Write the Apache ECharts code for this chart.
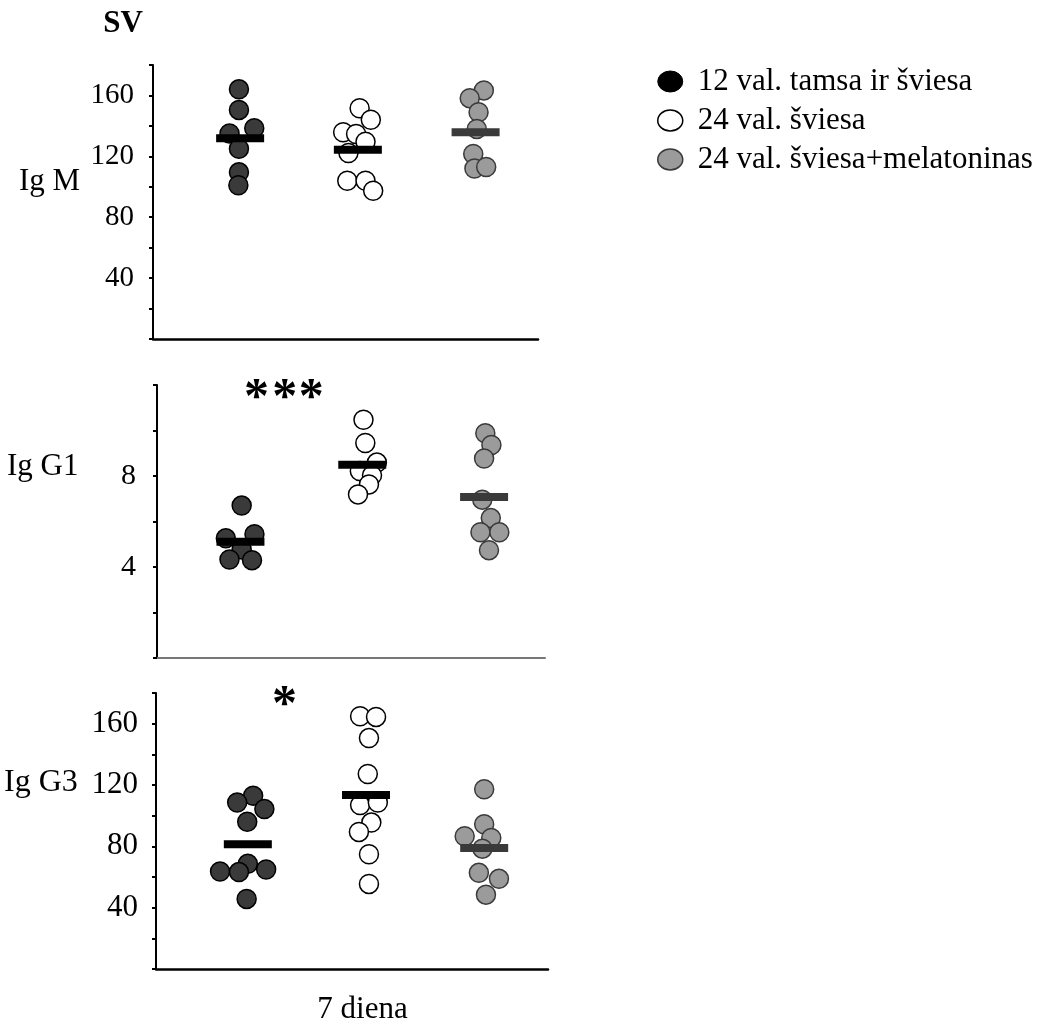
<!DOCTYPE html>
<html>
<head>
<meta charset="utf-8">
<script src="https://cdn.jsdelivr.net/npm/echarts@6/dist/echarts.min.js"></script>
<style>
html,body{margin:0;padding:0;background:#fff;}
#chart{width:1046px;height:1025px;}
</style>
</head>
<body>
<div id="chart"></div>
<script>
// ---- data ----
const groupNames = ['12 val. tamsa ir šviesa', '24 val. šviesa', '24 val. šviesa+melatoninas'];
const panelNames = ['Ig M', 'Ig G1', 'Ig G3'];
const xTitle = '7 diena';
const figTitle = 'SV';

// Ig M
const igM_dark = [164, 150.5, 138.5, 135, 125, 109.5, 101];
const igM_dark_jit = [-0.01, -0.01, 0.12, -0.09, -0.01, -0.01, -0.015];
const igM_white = [151.6, 144, 135.8, 134.7, 129.6, 122.2, 104, 104, 97.4];
const igM_white_jit = [0.015, 0.11, -0.125, -0.015, 0.065, -0.08, -0.09, 0.065, 0.13];
const igM_grey = [163.3, 158.2, 149, 138, 121.5, 112, 113];
const igM_grey_jit = [0.07, -0.05, 0.025, 0.01, -0.02, -0.01, 0.09];
const igM_means = [131.8, 124.4, 135.8];
const igM_ticks = [40, 80, 120, 160];

// Ig G1
const igG1_dark = [6.7, 5.26, 5.44, 4.77, 4.33, 4.30];
const igG1_dark_jit = [0.01, -0.12, 0.115, 0.01, -0.09, 0.095];
const igG1_white = [10.47, 9.45, 8.59, 8.22, 8.03, 7.63, 7.19];
const igG1_white_jit = [0.01, 0.025, 0.12, -0.02, 0.08, 0.055, -0.035];
const igG1_grey = [9.88, 9.36, 8.77, 6.96, 6.15, 5.53, 5.53, 4.74];
const igG1_grey_jit = [0.01, 0.06, 0, -0.015, 0.055, -0.03, 0.125, 0.04];
const igG1_means = [5.11, 8.49, 7.08];
const igG1_ticks = [4, 8];

// Ig G3
const igG3_dark = [113, 108.6, 104.3, 96, 68.6, 63.6, 63.2, 64.9, 45.7];
const igG3_dark_jit = [0.045, -0.09, 0.14, -0.005, 0, -0.235, -0.075, 0.155, -0.01];
const igG3_white = [164.8, 164.4, 150.6, 127.2, 106.9, 108.6, 95.5, 89.4, 74.8, 55.5];
const igG3_white_jit = [-0.05, 0.085, 0.025, 0.015, -0.05, 0.1, 0.045, -0.06, 0.025, 0.025];
const igG3_grey = [117.2, 94.4, 86.6, 85.5, 78.5, 62.7, 58.8, 48.5];
const igG3_grey_jit = [0, 0, -0.165, 0.06, -0.015, -0.045, 0.125, 0.015];
const igG3_means = [81.3, 113.4, 78.9];
const igG3_ticks = [40, 80, 120, 160];

const significance = ['***', '', '*'];

// ---- layout / style ----
const FONT = '"Liberation Serif", "Times New Roman", serif';
const panels = [
  { vals: [[igM_dark, igM_dark_jit], [igM_white, igM_white_jit], [igM_grey, igM_grey_jit]],
    means: igM_means, ticks: igM_ticks, yMax: 180, yInt: 20,
    grid: { left: 153, top: 65, width: 385, height: 274 }, xMin: 0.26, xMax: 3.53,
    xLine: '#000', xWidth: 2.5, labelSize: 29, labelMargin: 19 },
  { vals: [[igG1_dark, igG1_dark_jit], [igG1_white, igG1_white_jit], [igG1_grey, igG1_grey_jit]],
    means: igG1_means, ticks: igG1_ticks, yMax: 12, yInt: 2,
    grid: { left: 157, top: 385, width: 388, height: 273 }, xMin: 0.315, xMax: 3.5,
    xLine: '#777', xWidth: 2, labelSize: 30, labelMargin: 21 },
  { vals: [[igG3_dark, igG3_dark_jit], [igG3_white, igG3_white_jit], [igG3_grey, igG3_grey_jit]],
    means: igG3_means, ticks: igG3_ticks, yMax: 180, yInt: 20,
    grid: { left: 156, top: 693, width: 392, height: 276 }, xMin: 0.223, xMax: 3.54,
    xLine: '#000', xWidth: 2.5, labelSize: 31, labelMargin: 18 }
];
const pointStyles = [
  { color: '#3a3a3a', borderColor: '#000', borderWidth: 1.5, opacity: 1 },
  { color: '#fff', borderColor: '#000', borderWidth: 1.5, opacity: 1 },
  { color: '#9b9b9b', borderColor: '#3a3a3a', borderWidth: 1.5, opacity: 1 }
];
const meanColors = ['#000', '#000', '#3a3a3a'];

const grids = [], xAxes = [], yAxes = [], series = [];
panels.forEach((p, i) => {
  grids.push(Object.assign({ containLabel: false }, p.grid));
  xAxes.push({
    type: 'value', gridIndex: i, min: p.xMin, max: p.xMax,
    axisLine: { show: true, onZero: false, lineStyle: { color: p.xLine, width: p.xWidth } },
    axisTick: { show: false }, axisLabel: { show: false }, splitLine: { show: false }
  });
  const ticks = p.ticks;
  yAxes.push({
    type: 'value', gridIndex: i, min: 0, max: p.yMax, interval: p.yInt,
    axisLine: { show: true, lineStyle: { color: '#000', width: 2 } },
    axisTick: { show: true, length: 4, lineStyle: { color: '#000', width: 2 } },
    axisLabel: {
      margin: p.labelMargin, color: '#000', fontFamily: FONT, fontSize: p.labelSize,
      formatter: v => ticks.indexOf(v) >= 0 ? String(v) : ''
    },
    splitLine: { show: false }
  });
  p.vals.forEach((pair, g) => {
    const [vals, jit] = pair;
    series.push({
      type: 'scatter', name: groupNames[g], xAxisIndex: i, yAxisIndex: i,
      symbol: 'circle', symbolSize: 19, z: 2,
      itemStyle: pointStyles[g],
      emphasis: { disabled: true },
      data: vals.map((v, k) => [g + 1 + jit[k], v])
    });
  });
  series.push({
    type: 'scatter', name: 'mean', xAxisIndex: i, yAxisIndex: i,
    symbol: 'rect', symbolSize: [48, 8], z: 5,
    emphasis: { disabled: true },
    data: p.means.map((m, g) => ({ value: [g + 1, m], itemStyle: { color: meanColors[g], opacity: 1 } }))
  });
});

const txt = (text, x, y, size, opts) => Object.assign({
  type: 'text', x: x, y: y, z: 10,
  style: Object.assign({ text: text, fontFamily: FONT, fontSize: size, fill: '#000',
    align: 'left', verticalAlign: 'middle' }, (opts || {}))
});

const graphic = [
  txt(figTitle, 123, 24, 31, { align: 'center', fontWeight: 'bold' }),
  txt(panelNames[0], 19, 182, 31),
  txt(panelNames[1], 7, 467, 31),
  txt(panelNames[2], 4, 783, 32),
  txt(xTitle, 362.5, 1010, 31, { align: 'center' })
];
// significance asterisks
[256.5, 284.8, 311.3].forEach((x, k) => {
  if (significance[0].length > k) graphic.push(txt('*', x, 399, 50, { align: 'center', fontWeight: 'bold' }));
});
if (significance[2]) graphic.push(txt('*', 284.5, 706, 50, { align: 'center', fontWeight: 'bold' }));

const ICON = 'path://M0,10A10,10 0 1,1 20,10A10,10 0 1,1 0,10Z';
const chart = echarts.init(document.getElementById('chart'), null, { renderer: 'canvas' });
chart.setOption({
  animation: false,
  backgroundColor: '#fff',
  grid: grids, xAxis: xAxes, yAxis: yAxes, series: series, graphic: graphic,
  legend: {
    orient: 'vertical', left: 657, top: 66, padding: 0, itemGap: 8,
    itemWidth: 25, itemHeight: 21, symbolKeepAspect: false,
    selectedMode: false,
    textStyle: { fontFamily: FONT, fontSize: 31, color: '#000', padding: [0, 0, 0, 10] },
    data: [
      { name: groupNames[0], icon: ICON, itemStyle: { color: '#000', borderColor: '#000', borderWidth: 1, opacity: 1 } },
      { name: groupNames[1], icon: ICON, itemStyle: { color: '#fff', borderColor: '#000', borderWidth: 1.5, opacity: 1 } },
      { name: groupNames[2], icon: ICON, itemStyle: { color: '#9b9b9b', borderColor: '#3a3a3a', borderWidth: 1.5, opacity: 1 } }
    ]
  }
});
</script>
</body>
</html>
